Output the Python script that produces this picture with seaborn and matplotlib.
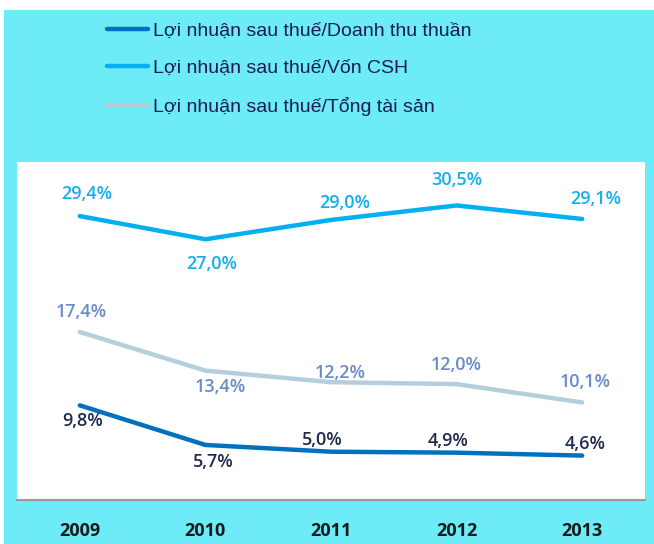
import pandas as pd
import matplotlib.pyplot as plt
import seaborn as sns
from matplotlib.patches import Rectangle

# Data
years = [2009, 2010, 2011, 2012, 2013]
series_names = [
    "Lợi nhuận sau thuế/Doanh thu thuần",
    "Lợi nhuận sau thuế/Vốn CSH",
    "Lợi nhuận sau thuế/Tổng tài sản",
]
ros = [9.8, 5.7, 5.0, 4.9, 4.6]
roe = [29.4, 27.0, 29.0, 30.5, 29.1]
roa = [17.4, 13.4, 12.2, 12.0, 10.1]

line_colors = ["#0070C0", "#00B0F0", "#B4CEDD"]
label_colors = ["#1F2A4F", "#16AEEE", "#6B8CC8"]

# label offsets (points) for each series / year
offsets = [
    [(2, -11.5), (5.8, -12.2), (-6.5, 8.6), (-6.5, 8.6), (2, 8)],
    [(5, 15.8), (4.3, -18), (10, 12.2), (0, 18), (9.4, 14.4)],
    [(1.4, 14.4), (10.8, -11.5), (6.5, 6.8), (0, 13.7), (2, 14.4)],
]

df = pd.DataFrame({
    "year": years * 3,
    "value": ros + roe + roa,
    "series": [series_names[0]] * 5 + [series_names[1]] * 5 + [series_names[2]] * 5,
})

sns.set_style("white")
fig = plt.figure(figsize=(6.54, 5.44), dpi=100)
fig.patch.set_facecolor("white")
fig.patches.append(Rectangle((4 / 654, 0), 1, 1 - 10 / 544, transform=fig.transFigure,
                             facecolor="#6DEBF7", edgecolor="none", zorder=-1))

ax = fig.add_axes([17 / 654, 44 / 544, 628 / 654, 338 / 544])
ax.set_facecolor("white")

sns.lineplot(data=df, x="year", y="value", hue="series", hue_order=series_names,
             palette=line_colors, linewidth=3.2, ax=ax, legend=True,
             solid_capstyle="round")

vals = [ros, roe, roa]
for i, v in enumerate(vals):
    for j, (yr, val) in enumerate(zip(years, v)):
        ax.annotate(f"{val:.1f}%".replace(".", ","), (yr, val),
                    xytext=offsets[i][j], textcoords="offset points",
                    ha="center", va="center", fontsize=13, fontweight="semibold",
                    family=["Open Sans", "DejaVu Sans"], color=label_colors[i])

ax.set_xlim(2008.5, 2013.5)
ax.set_ylim(0, 35)
ax.set_xticks(years)
ax.set_xticklabels([str(y) for y in years], fontsize=13, fontweight="bold",
                   family=["Open Sans", "DejaVu Sans"], color="#1A1A1A")
ax.set_yticks([])
ax.set_xlabel("")
ax.set_ylabel("")
ax.tick_params(axis="x", length=0, pad=16)
for s in ["top", "left", "right"]:
    ax.spines[s].set_visible(False)
ax.spines["bottom"].set_color("#9A9A9A")
ax.spines["bottom"].set_linewidth(1.5)

handles, labels = ax.get_legend_handles_labels()
ax.get_legend().remove()
leg = fig.legend(handles, labels, loc="upper left", bbox_to_anchor=(89 / 654, 1 - 5 / 544),
                 frameon=False, handlelength=2.15, handletextpad=0.26,
                 labelspacing=1.0, prop={"family": ["Liberation Sans", "DejaVu Sans"], "size": 14})
for t in leg.get_texts():
    t.set_color("#1C1C50")
for h in leg.get_lines():
    h.set_linewidth(3.2)

fig.savefig("out.png", dpi=100)
